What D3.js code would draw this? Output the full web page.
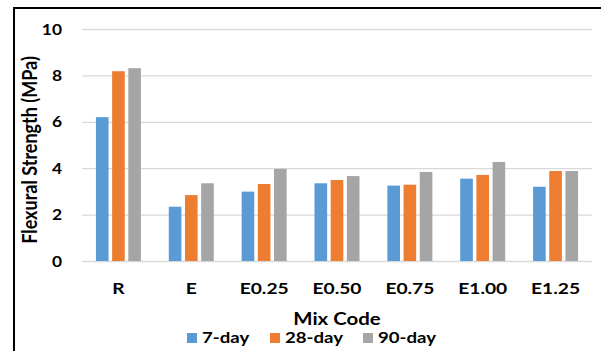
<!DOCTYPE html>
<html><head><meta charset="utf-8">
<script src="https://cdn.jsdelivr.net/npm/d3@7"></script>
<style>body{margin:0;background:#fff}svg{display:block}text{font-family:Lato,"Open Sans",sans-serif;font-weight:bold;fill:#000}</style>
</head><body><svg id="c" width="601" height="351"></svg>
<script>
const categories = ["R","E","E0.25","E0.50","E0.75","E1.00","E1.25"];
const seriesNames = ["7-day","28-day","90-day"];
const day7  = [6.20,2.34,2.99,3.35,3.25,3.55,3.20];
const day28 = [8.18,2.84,3.32,3.49,3.29,3.71,3.88];
const day90 = [8.31,3.35,3.97,3.66,3.84,4.27,3.88];
const yTicks = [0,2,4,6,8,10];
const colors = ["#5B9BD5","#ED7D31","#A5A5A5"];
const series = [day7, day28, day90];

const svg = d3.select("#c");
const sx = 1.2; // horizontal text stretch of the original picture
const plot = {left:82, right:592, top:29, bottom:261};

const x0 = d3.scaleBand().domain(categories).range([plot.left, plot.right]).padding(0);
const groupW = 45;
const x1 = d3.scaleBand().domain(seriesNames).range([0, groupW]).paddingInner(0.22);
const y = d3.scaleLinear().domain([0,10]).range([plot.bottom, plot.top]);

// frame lines
svg.append("line").attr("x1",14).attr("x2",601).attr("y1",8).attr("y2",8).attr("stroke","#000").attr("stroke-width",2);
svg.append("line").attr("x1",14).attr("x2",14).attr("y1",7).attr("y2",351).attr("stroke","#000").attr("stroke-width",2);

// gridlines
svg.append("g").selectAll("line").data(yTicks).join("line")
  .attr("x1",plot.left).attr("x2",plot.right)
  .attr("y1",d=>y(d)+0.5).attr("y2",d=>y(d)+0.5)
  .attr("stroke","#D9D9D9").attr("stroke-width",1.3);

// y tick labels
svg.append("g").selectAll("text").data(yTicks).join("text")
  .attr("transform",d=>`translate(62,${y(d)+5.5}) scale(${sx},1)`)
  .attr("text-anchor","end").attr("font-size",14.5).text(d=>d);

// bars
const g = svg.append("g");
categories.forEach((c,i)=>{
  seriesNames.forEach((s,j)=>{
    g.append("rect")
      .attr("x", x0(c) + (x0.bandwidth()-groupW)/2 + x1(s))
      .attr("width", x1.bandwidth())
      .attr("y", y(series[j][i]))
      .attr("height", y(0)-y(series[j][i]))
      .attr("fill", colors[j]);
  });
});

// x labels
svg.append("g").selectAll("text").data(categories).join("text")
  .attr("transform",d=>`translate(${x0(d)+x0.bandwidth()/2},294) scale(${sx},1)`)
  .attr("text-anchor","middle").attr("font-size",16).text(d=>d);

// axis titles
svg.append("text").attr("transform",`translate(${(plot.left+plot.right)/2},325) scale(${sx},1)`)
  .attr("text-anchor","middle").attr("font-size",17).text("Mix Code");
svg.append("text").attr("transform",`translate(37,150) scale(${sx},1) rotate(-90)`)
  .attr("text-anchor","middle").attr("font-size",18).text("Flexural Strength (MPa)");

// legend
const legX = [187,270,363];
const leg = svg.append("g");
seriesNames.forEach((s,j)=>{
  leg.append("rect").attr("x",legX[j]).attr("y",333).attr("width",10).attr("height",10).attr("fill",colors[j]);
  leg.append("text").attr("transform",`translate(${legX[j]+15},343) scale(${sx},1)`)
    .attr("font-size",15.5).text(s);
});
</script></body></html>
